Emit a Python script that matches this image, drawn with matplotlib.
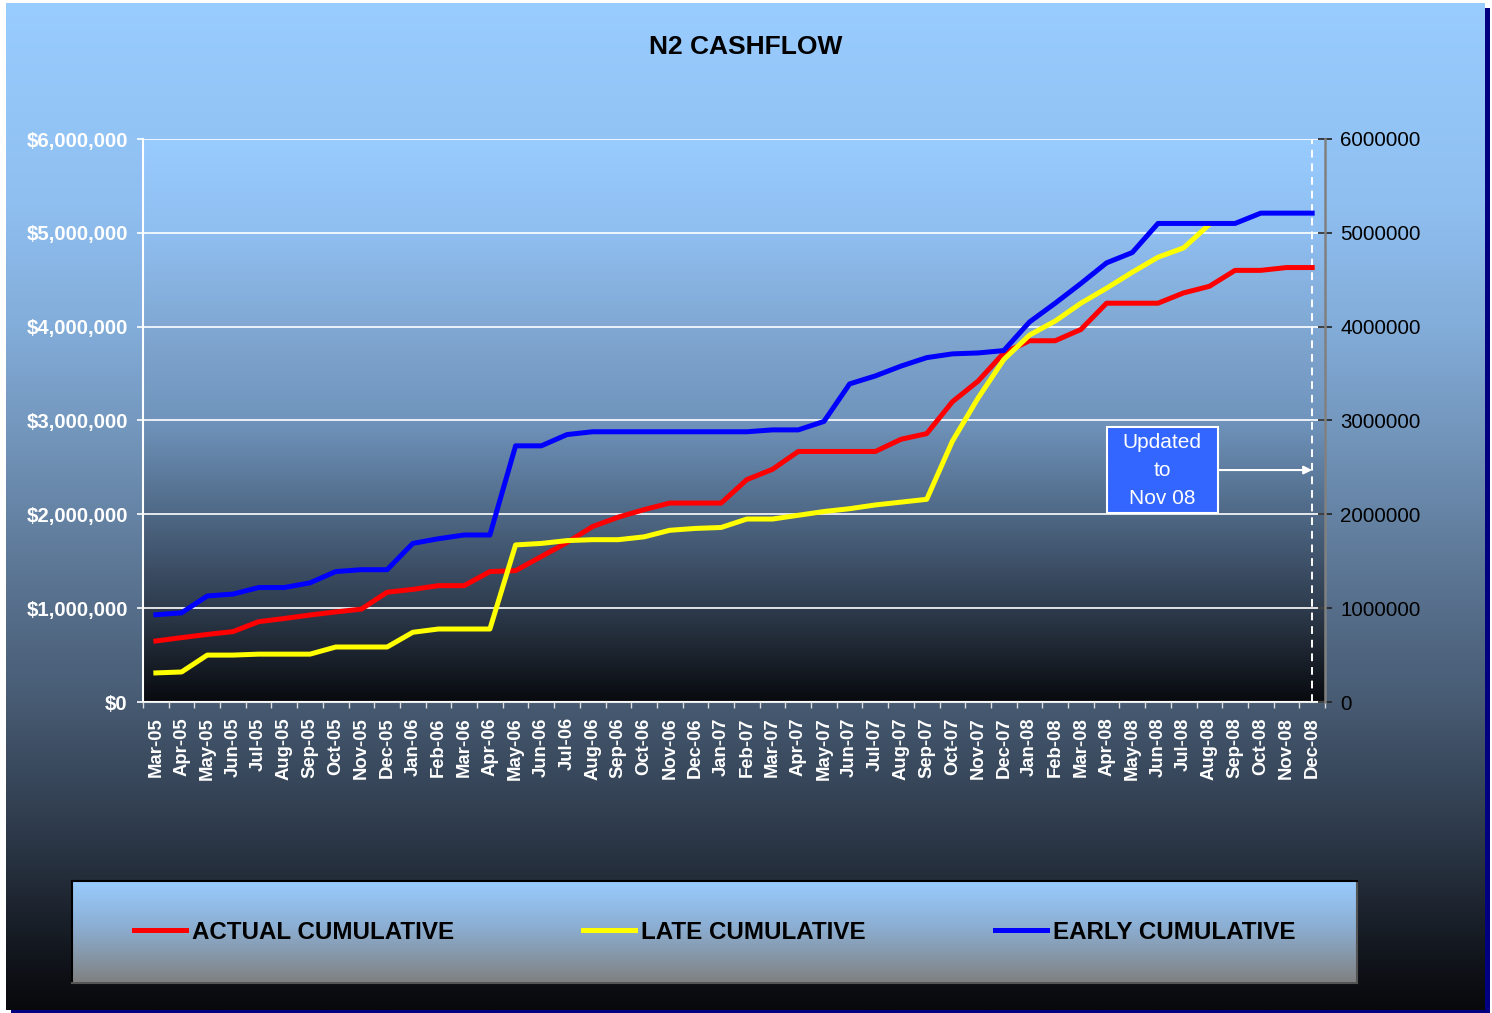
#!/usr/bin/env python
import numpy as np
import matplotlib
matplotlib.use('Agg')
import matplotlib.pyplot as plt
from matplotlib.patches import Rectangle
from matplotlib.ticker import FuncFormatter, MultipleLocator

plt.rcParams['font.family'] = ['Liberation Sans', 'DejaVu Sans']

MONTHS = ['Mar-05', 'Apr-05', 'May-05', 'Jun-05', 'Jul-05', 'Aug-05', 'Sep-05', 'Oct-05',
          'Nov-05', 'Dec-05', 'Jan-06', 'Feb-06', 'Mar-06', 'Apr-06', 'May-06', 'Jun-06',
          'Jul-06', 'Aug-06', 'Sep-06', 'Oct-06', 'Nov-06', 'Dec-06', 'Jan-07', 'Feb-07',
          'Mar-07', 'Apr-07', 'May-07', 'Jun-07', 'Jul-07', 'Aug-07', 'Sep-07', 'Oct-07',
          'Nov-07', 'Dec-07', 'Jan-08', 'Feb-08', 'Mar-08', 'Apr-08', 'May-08', 'Jun-08',
          'Jul-08', 'Aug-08', 'Sep-08', 'Oct-08', 'Nov-08', 'Dec-08']

ACTUAL = [650000, 686000, 720000, 750000, 856000, 890000, 927000, 960000, 990000, 1170000,
          1200000, 1240000, 1240000, 1390000, 1400000, 1550000, 1700000, 1870000, 1970000,
          2050000, 2120000, 2120000, 2120000, 2370000, 2480000, 2670000, 2670000, 2670000,
          2670000, 2800000, 2860000, 3200000, 3420000, 3720000, 3850000, 3850000, 3970000,
          4250000, 4250000, 4250000, 4360000, 4430000, 4600000, 4600000, 4630000, 4630000]

LATE = [310000, 320000, 500000, 500000, 510000, 510000, 510000, 586000, 586000, 586000,
        743000, 778000, 778000, 778000, 1674000, 1690000, 1720000, 1730000, 1730000,
        1760000, 1830000, 1850000, 1860000, 1950000, 1950000, 1990000, 2030000, 2060000,
        2100000, 2130000, 2160000, 2780000, 3240000, 3650000, 3910000, 4060000, 4250000,
        4410000, 4580000, 4740000, 4840000, 5090000, np.nan, np.nan, np.nan, np.nan]

EARLY = [930000, 950000, 1130000, 1150000, 1220000, 1220000, 1270000, 1390000, 1410000,
         1410000, 1690000, 1740000, 1780000, 1780000, 2730000, 2730000, 2850000, 2880000,
         2880000, 2880000, 2880000, 2880000, 2880000, 2880000, 2900000, 2900000, 2990000,
         3390000, 3475000, 3580000, 3670000, 3710000, 3720000, 3745000, 4050000, 4250000,
         4460000, 4680000, 4790000, 5100000, 5100000, 5100000, 5100000, 5210000, 5210000,
         5210000]

W, H = 1492, 1013


def gradient(ax, stops):
    # stops: list of (fraction from top, (r,g,b))
    fr = np.array([s[0] for s in stops])
    cols = np.array([s[1] for s in stops], dtype=float) / 255.
    t = np.linspace(0, 1, 512)
    img = np.stack([np.interp(t, fr, cols[:, k]) for k in range(3)], axis=-1)[:, None, :]
    ax.imshow(img, aspect='auto', extent=(0, 1, 0, 1), transform=ax.transAxes,
              interpolation='bilinear', zorder=0)


fig = plt.figure(figsize=(W / 100., H / 100.), dpi=100, facecolor='white')

# shadow + background panel
fig.patches.append(Rectangle((11 / W, 0), 1479 / W, 1005 / H, transform=fig.transFigure,
                             facecolor='#000080', edgecolor='none', zorder=-3))
bg = fig.add_axes([6 / W, 3 / H, 1479 / W, 1007 / H], zorder=-2)
gradient(bg, [(0.0, (153, 204, 255)), (0.2, (143, 191, 240)), (0.32, (131, 173, 218)),
              (0.44, (113, 147, 184)), (0.57, (91, 117, 147)), (0.69, (72, 92, 116)),
              (0.83, (44, 56, 72)), (0.96, (15, 18, 24)), (1.0, (8, 9, 12))])
bg.set_axis_off()

ax = fig.add_axes([143 / W, 311 / H, 1182 / W, 563 / H])
x = np.arange(len(MONTHS))
gradient(ax, [(0.0, (153, 204, 255)), (0.17, (143, 190, 240)), (0.35, (127, 166, 208)),
              (0.5, (112, 148, 188)), (0.66, (80, 106, 136)), (0.84, (45, 58, 75)),
              (1.0, (8, 10, 14))])

l1, = ax.plot(x, ACTUAL, color='#FF0000', lw=3.6, zorder=3, label='ACTUAL CUMULATIVE')
l2, = ax.plot(x, LATE, color='#FFFF00', lw=3.6, zorder=4, label='LATE CUMULATIVE')
l3, = ax.plot(x, EARLY, color='#0000FF', lw=3.6, zorder=5, label='EARLY CUMULATIVE')

ax.set_xlim(-0.5, len(MONTHS) - 0.5)
ax.set_ylim(0, 6000000)
ax.yaxis.set_major_locator(MultipleLocator(1000000))
ax.yaxis.set_major_formatter(FuncFormatter(lambda v, p: '${:,.0f}'.format(v)))
ax.grid(axis='y', color='white', lw=1.2, zorder=1)
ax.set_axisbelow(False)

ax.set_xticks(x)
ax.set_xticklabels(MONTHS, rotation=90)
ax.set_xticks(np.arange(len(MONTHS) + 1) - 0.5, minor=True)
ax.tick_params(axis='x', which='major', length=0, pad=11, labelsize=13.3, labelcolor='white')
ax.tick_params(axis='x', which='minor', length=4, color='#dddddd', width=1)
ax.tick_params(axis='y', length=4, color='white', width=1.2, pad=7, labelsize=14.7,
               labelcolor='white')
for lab in ax.get_xticklabels() + ax.get_yticklabels():
    lab.set_fontweight('bold')
for s in ['top', 'right']:
    ax.spines[s].set_visible(False)
ax.spines['left'].set_color('white')
ax.spines['left'].set_linewidth(1.5)
ax.spines['bottom'].set_color('#e8e8e8')
ax.spines['bottom'].set_linewidth(1.5)

ax2 = ax.twinx()
ax2.set_ylim(0, 6000000)
ax2.yaxis.set_major_locator(MultipleLocator(1000000))
ax2.yaxis.set_major_formatter(FuncFormatter(lambda v, p: '{:.0f}'.format(v)))
ax2.tick_params(axis='y', direction='inout', length=10, color='#222222', width=1.2,
                pad=6, labelsize=14.8, labelcolor='black')
for s in ['top', 'left', 'bottom']:
    ax2.spines[s].set_visible(False)
ax2.spines['right'].set_color('#808080')
ax2.spines['right'].set_linewidth(1.8)

# "updated to" marker
ax.axvline(len(MONTHS) - 1, color='white', lw=1.4, ls=(0, (4, 3)), zorder=2)
ax.add_patch(Rectangle((37.0, 2015000), 4.33, 915000, facecolor='#3366FF',
                       edgecolor='white', lw=1.5, zorder=6))
ax.text(39.17, 2472000, 'Updated\nto\nNov 08', ha='center', va='center', color='white',
        fontsize=15, linespacing=1.6, zorder=7)
ax.annotate('', xy=(len(MONTHS) - 1, 2472000), xytext=(41.35, 2472000),
            arrowprops=dict(arrowstyle='-|>', color='white', lw=1.5, mutation_scale=12,
                            shrinkA=0, shrinkB=0), zorder=7)

fig.text(746 / W, 1 - 47 / H, 'N2 CASHFLOW', ha='center', va='center', fontsize=19,
         fontweight='bold', color='black')

# legend box
lax = fig.add_axes([72 / W, 30 / H, 1285 / W, 102 / H])
gradient(lax, [(0.0, (153, 204, 255)), (0.45, (140, 174, 210)), (1.0, (128, 128, 128))])
lax.set_xticks([])
lax.set_yticks([])
for s in ['top', 'left']:
    lax.spines[s].set_color('black')
for s in ['bottom', 'right']:
    lax.spines[s].set_color('#555555')
for s in lax.spines.values():
    s.set_linewidth(1.5)
leg = lax.legend(handles=[l1, l2, l3], loc='center', ncol=3, frameon=False,
                 handlelength=2.15, handletextpad=0.25, columnspacing=5.35,
                 prop={'size': 17.4, 'weight': 'bold'})
for t in leg.get_texts():
    t.set_color('black')

plt.savefig('out.png', dpi=100, facecolor=fig.get_facecolor())
